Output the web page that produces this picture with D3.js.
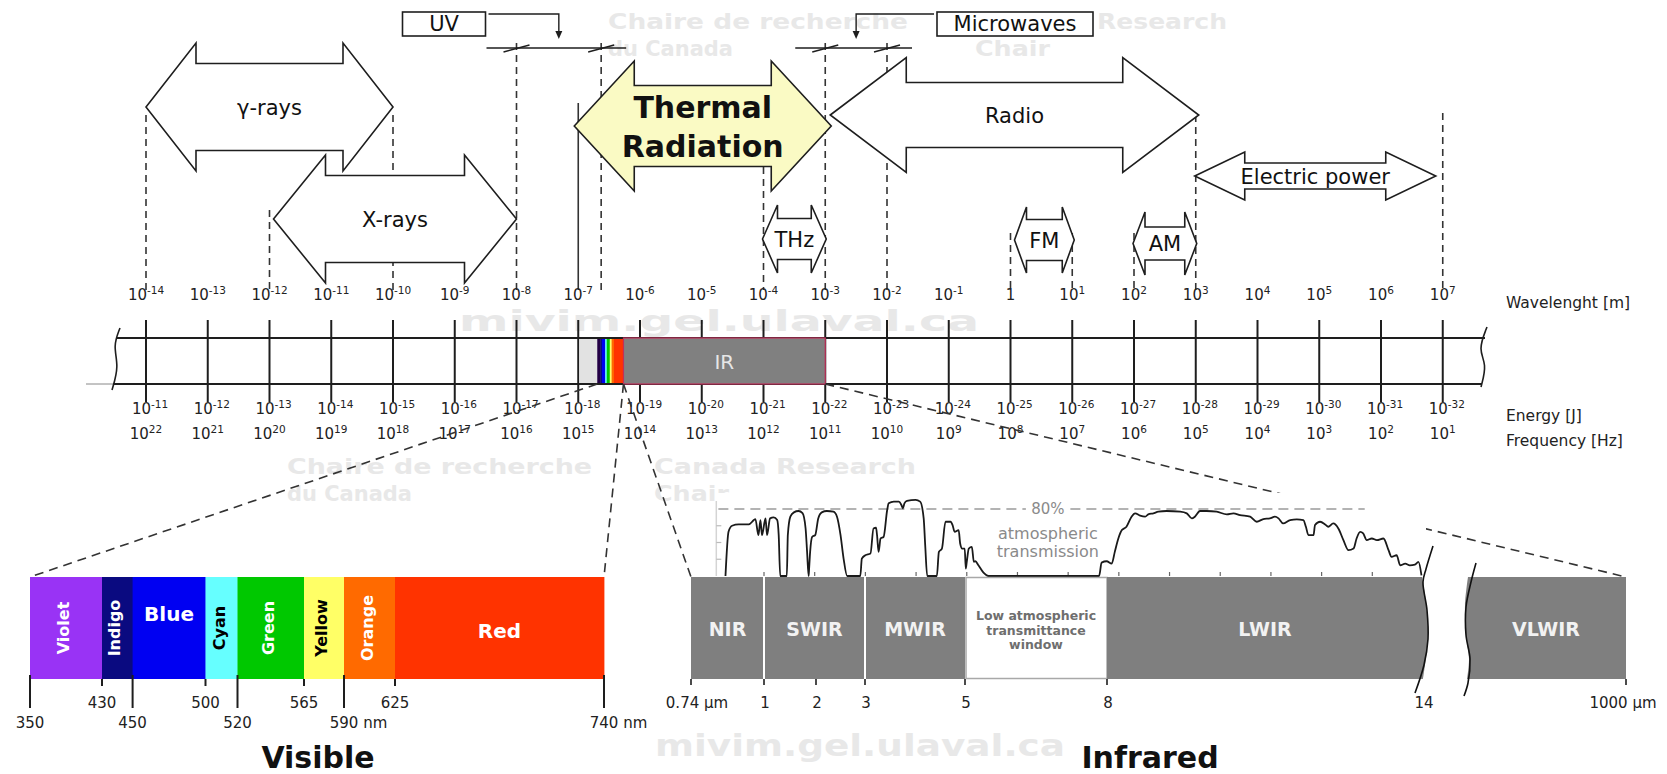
<!DOCTYPE html>
<html><head><meta charset="utf-8">
<script src="https://cdn.jsdelivr.net/npm/d3@7"></script>
<style>body{margin:0;background:#fff}svg{display:block}text{font-family:'DejaVu Sans',Verdana,sans-serif}</style>
</head><body><svg id="c" width="1667" height="774"></svg>
<script>
// ================= DATA =================
const wavelengthExp = [-14,-13,-12,-11,-10,-9,-8,-7,-6,-5,-4,-3,-2,-1,0,1,2,3,4,5,6,7];
const energyExp = [-11,-12,-13,-14,-15,-16,-17,-18,-19,-20,-21,-22,-23,-24,-25,-26,-27,-28,-29,-30,-31,-32];
const frequencyExp = [22,21,20,19,18,17,16,15,14,13,12,11,10,9,8,7,6,5,4,3,2,1];

const bandNames  = ["γ-rays","X-rays","Radio","Thermal Radiation","THz","FM","AM","Electric power"];
const bandFromExp = [-14,-12,-3,-7,-4,0,2,3];
const bandToExp   = [-10,-8,3,-3,-3,1,3,7];

const bracketNames = ["UV","Microwaves"];
const bracketFrom  = [1e-8, 1e-3];
const bracketTo    = [2.35e-7, 1e-2];

const guideWavelengths = [1e-14,1e-12,1e-10,1e-8,2.35e-7,1e-7,1e-4,1e-3,1e-2,1,10,100,1000,1e7];

const visibleNames = ["Violet","Indigo","Blue","Cyan","Green","Yellow","Orange","Red"];
const visibleFrom  = [350,430,450,500,520,565,590,625];
const visibleTo    = [430,450,500,520,565,590,625,740];
const visibleTicksUpper = [430,500,565,625];
const visibleTicksLower = [350,450,520,590,740];

const irNames = ["NIR","SWIR","MWIR","Low atmospheric|transmittance|window","LWIR"];
const irFrom  = [0.74,1,3,5,8];
const irTo    = [1,3,5,8,14];
const farIrName = "VLWIR";
const farIrFrom = 14, farIrTo = 1000;
const irTicks = [0.74,1,2,3,5,8,14];
const irTickLabels = ["0.74 µm","1","2","3","5","8","14"];
const farIrTickLabel = "1000 µm";
const transTicks = [1,2,3,4,5,6,7,8,9,10,11,12,13];
const transGrid = [20,40,60,80];

// atmospheric transmission (%) vs wavelength (µm)
const transWl = [0.24,0.30,0.37,0.50,0.70,0.80,0.83,0.89,0.93,0.96,1.03,1.06,1.12,1.19,1.26,1.29,1.32,
 1.45,1.47,1.52,1.59,1.68,1.76,1.82,1.85,1.88,
 1.89,1.91,1.95,2.01,2.07,2.14,2.24,2.37,2.44,2.51,2.57,2.64,
 2.90,2.93,3.00,3.10,3.16,3.21,3.23,3.26,3.30,3.36,3.43,3.46,3.56,3.66,3.71,3.74,3.77,3.82,3.99,4.08,4.15,4.18,4.22,
 4.41,4.45,4.51,4.58,4.68,4.72,4.76,4.84,4.87,4.91,4.96,4.98,5.00,5.04,5.10,5.14,5.17,5.23,5.33,5.43,
 7.61,7.66,7.76,7.86,7.92,7.99,8.06,8.15,8.25,8.32,8.42,8.52,8.58,8.68,8.78,8.94,9.21,9.34,9.44,9.50,
 9.60,9.73,9.93,10.13,10.26,10.39,10.59,10.72,10.85,10.98,11.08,11.15,11.24,11.38,11.51,11.64,11.69,11.74,11.84,11.87,
 11.97,12.07,12.13,12.23,12.33,12.43,12.53,12.63,12.69,12.76,12.82,12.89,12.99,13.09,13.22,13.32,13.38,13.48,13.55,13.65,
 13.74,13.84,13.91,13.97];
const transPct = [0,52.8,60,61.6,61.6,66.8,68,48.8,66.8,48.8,68.8,48.8,68.8,70,66.8,48.8,0,
 0,49,71,76,77.6,75,57,29,0,
 8.8,28.8,46.8,48.8,68.8,76,77.6,76.8,70.8,48.8,20.8,0,
 0,20.8,24.8,26.8,56.8,57.6,48.8,28.8,44.8,46.8,78.8,86.8,88.8,88.8,84.8,80.8,86.8,89.6,90.8,88.8,68.8,36.8,0,
 0,28.8,32.8,64.8,64.8,60.8,52.8,54.8,38.8,32.8,32.8,8.8,16.8,32.8,34.8,16.8,17.6,12.8,4,0,
 0,16,17.6,14.8,28.8,44.8,54.8,58.8,70.8,74.8,72,70.8,73.6,74.8,76.8,77.6,76.8,74.8,68.8,70.8,
 77.6,77.6,76.8,73.6,74.8,72.8,70.8,64.8,68,68.8,70.8,68.8,62.8,66.8,67.6,66.8,58.8,48.8,48.8,60.8,
 64.8,61.6,58.8,62.8,56.8,42.8,30.8,32.8,44.8,52.8,50.8,42.8,44.8,42.8,44.8,30.8,22.8,24.8,12.8,14.8,
 12.8,13.6,16.8,0.8];

// ================= STYLE / LAYOUT =================
const visibleColors = ["#9933f5","#0a0a80","#0000f2","#66ffff","#00c800","#ffff66","#ff6a00","#ff3300"];
const visibleText   = ["#fff","#fff","#fff","#000","#fff","#000","#fff","#fff"];
const visibleRotated = [true,true,false,true,true,true,true,false];
const guideTop  = [115,210,115,43,43,103,167,43,43,233,233,233,115,113];
const guideDash = [true,true,true,true,true,false,true,true,true,true,true,true,true,true];
const arrowLayout = [
 {cy:107,H:64,S:43.5,L:50,pad:[0,0]},
 {cy:219,H:64,S:43.5,L:52,pad:[4,0]},
 {cy:115,H:57.5,S:32.5,L:76,pad:[5,3]},
 {cy:126,H:65,S:40.5,L:60,pad:[-4,6]},
 {cy:239,H:34,S:20.5,L:15,pad:[-1,1]},
 {cy:240,H:33,S:20.5,L:12,pad:[4,2]},
 {cy:243.5,H:31.5,S:16.5,L:12,pad:[-1,1]},
 {cy:176,H:24,S:13,L:50,pad:[-1,-7]}
];
const W = 1667, H = 774;
const ink = "#1e1e1e";

const svg = d3.select("#c");
svg.append("rect").attr("width",W).attr("height",H).attr("fill","#fff");

// ---------- scales ----------
const wl = d3.scaleLog().domain([1e-14,1e7]).range([146,1442.75]);
const wlE = e => wl(Math.pow(10,e));
const visX = d3.scaleLinear().domain([350,430,450,500,520,565,590,625,740])
  .range([30,102,132.6,205.5,237.5,304,344,395,604]);
const irBar = d3.scaleLinear().domain(irTicks).range([691,764,816,865,965,1107,1423]);
const farIr = d3.scaleLinear().domain([farIrFrom,farIrTo]).range([1466,1626]);
const tX = d3.scaleLinear().domain([1,14]).range([764,1423]);
const tY = d3.scaleLinear().domain([0,80]).range([576,509]);
const stripLo = 2.03e-7, stripHi = 5.4e-7;
const mini = d3.scaleLinear().domain([visX(350),visX(740)]).range([wl(stripLo),wl(stripHi)]);

// ---------- watermark ----------
const wm = svg.append("g").attr("fill","#e8e8e8").attr("font-weight","bold");
[["Chaire de recherche",608,29,21,300],["du Canada",608,56,21,125],["Research",1097,29,21,130],["Chair",975,56,21,75],
 ["Chaire de recherche",287,474,21,305],["du Canada",287,501,21,125],["Canada Research",654,474,21,262],["Chair",654,501,21,75]]
 .forEach(d=>wm.append("text").attr("x",d[1]).attr("y",d[2]).attr("font-size",d[3])
   .attr("textLength",d[4]).attr("lengthAdjust","spacingAndGlyphs").text(d[0]));
wm.append("text").attr("x",459).attr("y",331).attr("font-size",29).attr("textLength",520)
  .attr("lengthAdjust","spacingAndGlyphs").text("mivim.gel.ulaval.ca");
wm.append("text").attr("x",655).attr("y",756).attr("font-size",30).attr("textLength",410)
  .attr("lengthAdjust","spacingAndGlyphs").text("mivim.gel.ulaval.ca");

// ---------- guides ----------
const topG = svg.append("g");
guideWavelengths.forEach((w,i)=>{
  topG.append("line").attr("x1",wl(w)).attr("x2",wl(w)).attr("y1",guideTop[i]).attr("y2",290)
    .attr("stroke","#333").attr("stroke-width",1.6).attr("stroke-dasharray",guideDash[i]?"7,5":null);
});

// ---------- arrows ----------
function arrowPath(x1,x2,cy,Hh,S,L){
  return `M${x1},${cy}L${x1+L},${cy-Hh}L${x1+L},${cy-S}L${x2-L},${cy-S}L${x2-L},${cy-Hh}L${x2},${cy}`+
         `L${x2-L},${cy+Hh}L${x2-L},${cy+S}L${x1+L},${cy+S}L${x1+L},${cy+Hh}Z`;
}
bandNames.forEach((name,i)=>{
  const a = arrowLayout[i];
  const x1 = wlE(bandFromExp[i])+a.pad[0], x2 = wlE(bandToExp[i])+a.pad[1];
  const thermal = name==="Thermal Radiation";
  topG.append("path").attr("d",arrowPath(x1,x2,a.cy,a.H,a.S,a.L))
    .attr("fill",thermal?"#fafac4":"#fff").attr("stroke",ink).attr("stroke-width",1.6)
    .attr("stroke-linejoin","miter");
  const cx = (x1+x2)/2;
  if(thermal){
    const words = name.split(" ");
    topG.append("text").attr("x",cx).attr("y",a.cy-8).attr("text-anchor","middle")
      .attr("font-size",30).attr("font-weight","bold").attr("fill","#111").text(words[0]);
    topG.append("text").attr("x",cx).attr("y",a.cy+31).attr("text-anchor","middle")
      .attr("font-size",30).attr("font-weight","bold").attr("fill","#111").text(words[1]);
  } else {
    topG.append("text").attr("x",cx).attr("y",a.cy+7.5).attr("text-anchor","middle")
      .attr("font-size",21).attr("fill","#111").text(name);
  }
});

// ---------- UV / Microwaves brackets ----------
const dimY = 48;
const boxLayout = [{cx:444,w:83,side:"right"},{cx:1015,w:156,side:"left"}];
bracketNames.forEach((name,i)=>{
  const xa = wl(bracketFrom[i]), xb = wl(bracketTo[i]);
  topG.append("line").attr("x1",xa-30).attr("x2",xb+25).attr("y1",dimY).attr("y2",dimY)
    .attr("stroke",ink).attr("stroke-width",1.4);
  [xa,xb].forEach(x=>topG.append("line").attr("x1",x-13).attr("x2",x+13)
     .attr("y1",dimY+4).attr("y2",dimY-3).attr("stroke",ink).attr("stroke-width",1.4));
  const b = boxLayout[i];
  topG.append("rect").attr("x",b.cx-b.w/2).attr("y",12).attr("width",b.w).attr("height",24)
    .attr("fill","#fff").attr("stroke",ink).attr("stroke-width",1.6);
  topG.append("text").attr("x",b.cx).attr("y",31).attr("text-anchor","middle")
    .attr("font-size",21).attr("fill","#111").text(name);
  const mid = (xa+xb)/2;
  const edge = b.side==="right" ? b.cx+b.w/2+3 : b.cx-b.w/2-3;
  topG.append("path").attr("d",`M${edge},14L${mid},14L${mid},34`).attr("fill","none")
    .attr("stroke",ink).attr("stroke-width",1.4);
  topG.append("path").attr("d",`M${mid-3.5},31L${mid+3.5},31L${mid},39Z`).attr("fill",ink);
});

// ---------- main band ----------
const bandTop = 338, bandBot = 384;
const band = svg.append("g");
wavelengthExp.forEach(e=>{
  band.append("line").attr("x1",wlE(e)).attr("x2",wlE(e)).attr("y1",320).attr("y2",402)
    .attr("stroke",ink).attr("stroke-width",2);
});
band.append("line").attr("x1",117).attr("x2",1485).attr("y1",bandTop).attr("y2",bandTop)
  .attr("stroke",ink).attr("stroke-width",1.8);
band.append("line").attr("x1",113).attr("x2",1482).attr("y1",bandBot).attr("y2",bandBot)
  .attr("stroke",ink).attr("stroke-width",1.8);
band.append("line").attr("x1",86).attr("x2",113).attr("y1",bandBot).attr("y2",bandBot)
  .attr("stroke","#888").attr("stroke-width",1);
band.append("rect").attr("x",wl(1e-7)+1).attr("y",bandTop+1).attr("width",wl(stripLo)-wl(1e-7)-1)
  .attr("height",bandBot-bandTop-2).attr("fill","#e2e2e2");
visibleNames.forEach((n,i)=>{
  band.append("rect").attr("x",mini(visX(visibleFrom[i]))).attr("y",bandTop+1)
    .attr("width",mini(visX(visibleTo[i]))-mini(visX(visibleFrom[i]))+0.3).attr("height",bandBot-bandTop-2)
    .attr("fill",i===0?"#220044":visibleColors[i]);
});
band.append("rect").attr("x",wl(stripHi)).attr("y",bandTop).attr("width",wl(1e-3)-wl(stripHi))
  .attr("height",bandBot-bandTop).attr("fill","#808080").attr("stroke","#c0305a").attr("stroke-width",1.2);
band.append("text").attr("x",(wl(stripHi)+wl(1e-3))/2).attr("y",369).attr("text-anchor","middle")
  .attr("font-size",20).attr("fill","#e6e6e6").text("IR");
const curveL = d3.line().curve(d3.curveBasis);
band.append("path").attr("d",curveL([[120,328],[113,346],[119,366],[112,390]]))
  .attr("fill","none").attr("stroke",ink).attr("stroke-width",1.6);
band.append("path").attr("d",curveL([[1487,327],[1478,350],[1487,364],[1481,387]]))
  .attr("fill","none").attr("stroke",ink).attr("stroke-width",1.6);

function supLabel(g,x,y,base,exp){
  const t = g.append("text").attr("x",x).attr("y",y).attr("text-anchor","middle")
    .attr("font-size",15).attr("fill","#222");
  t.append("tspan").text(base);
  if(exp!==null) t.append("tspan").attr("dy",-6).attr("font-size",10.5).text(exp);
}
wavelengthExp.forEach(e=>{
  if(e===0) supLabel(band,wlE(e),300,"1",null);
  else supLabel(band,wlE(e),300,"10",String(e));
});
energyExp.forEach((e,i)=>supLabel(band,wlE(wavelengthExp[i])+4,414,"10",String(e)));
frequencyExp.forEach((e,i)=>supLabel(band,wlE(wavelengthExp[i]),439,"10",String(e)));
[["Wavelenght [m]",308],["Energy [J]",421],["Frequency [Hz]",446]].forEach(d=>
  band.append("text").attr("x",1506).attr("y",d[1]).attr("font-size",15.5).attr("fill","#222").text(d[0]));

// ---------- zoom dashed lines ----------
const visTop = 577, visBot = 679, irTop = 577, irBot = 679;
const zl = svg.append("g").attr("stroke","#333").attr("stroke-width",1.6).attr("stroke-dasharray","9,6");
zl.append("line").attr("x1",wl(stripLo)).attr("y1",bandBot).attr("x2",visX(350)).attr("y2",visTop);
zl.append("line").attr("x1",wl(stripHi)).attr("y1",bandBot).attr("x2",visX(740)).attr("y2",visTop);
zl.append("line").attr("x1",wl(stripHi)).attr("y1",bandBot).attr("x2",irBar(0.74)).attr("y2",irTop);
zl.append("line").attr("x1",wl(1e-3)).attr("y1",bandBot).attr("x2",farIr(farIrTo)).attr("y2",irTop);

// ---------- atmospheric transmission ----------
const tr = svg.append("g");
tr.append("rect").attr("x",tX(0)+3).attr("y",493).attr("width",irBar(14)+3-tX(0)-3).attr("height",tY(0)-493)
  .attr("fill","#fff");
tr.append("line").attr("x1",tX(0)+3).attr("x2",tX(0)+3).attr("y1",tY(80)-8).attr("y2",tY(0))
  .attr("stroke","#d4d4d4").attr("stroke-width",1.5);
transGrid.slice(0,3).forEach(p=>tr.append("line").attr("x1",tX(0)+3).attr("x2",tX(0)+8)
  .attr("y1",tY(p)).attr("y2",tY(p)).attr("stroke","#bbb").attr("stroke-width",1.2));
transTicks.forEach(t=>tr.append("line").attr("x1",tX(t)).attr("x2",tX(t)).attr("y1",tY(0)-4).attr("y2",tY(0))
  .attr("stroke","#666").attr("stroke-width",1.2));
tr.append("line").attr("x1",tX(0.1)).attr("x2",tX(12.85)).attr("y1",tY(80)).attr("y2",tY(80))
  .attr("stroke","#9a9a9a").attr("stroke-width",1.6).attr("stroke-dasharray","10,6");
tr.append("rect").attr("x",tX(6.6)-22).attr("y",tY(80)-9).attr("width",44).attr("height",18).attr("fill","#fff");
tr.append("text").attr("x",tX(6.6)).attr("y",tY(80)+5).attr("text-anchor","middle").attr("font-size",15)
  .attr("fill","#8a8a8a").text("80%");
tr.append("text").attr("x",tX(6.6)).attr("y",539).attr("text-anchor","middle").attr("font-size",16)
  .attr("fill","#8a8a8a").text("atmospheric");
tr.append("text").attr("x",tX(6.6)).attr("y",557).attr("text-anchor","middle").attr("font-size",16)
  .attr("fill","#8a8a8a").text("transmission");
const tline = d3.line().x((d,i)=>tX(transWl[i])).y((d,i)=>tY(transPct[i])).curve(d3.curveMonotoneX);
tr.append("path").attr("d",tline(transWl)).attr("fill","none").attr("stroke","#1a1a1a")
  .attr("stroke-width",1.8).attr("stroke-linejoin","round");

// ---------- visible bar ----------
const vis = svg.append("g");
visibleNames.forEach((n,i)=>{
  const x0 = visX(visibleFrom[i]), x1 = visX(visibleTo[i]);
  vis.append("rect").attr("x",x0).attr("y",visTop).attr("width",x1-x0+0.4).attr("height",visBot-visTop)
    .attr("fill",visibleColors[i]);
  const cx = (x0+x1)/2, cy = (visTop+visBot)/2;
  if(visibleRotated[i]){
    vis.append("text").attr("transform",`translate(${cx+3},${cy}) rotate(-90)`).attr("text-anchor","middle")
      .attr("font-size",16).attr("font-weight","bold").attr("fill",visibleText[i]).text(n);
  } else {
    vis.append("text").attr("x",cx).attr("y",n==="Blue"?621:638).attr("text-anchor","middle")
      .attr("font-size",20).attr("font-weight","bold").attr("fill",visibleText[i]).text(n);
  }
});
visibleTicksUpper.forEach(v=>{
  vis.append("line").attr("x1",visX(v)).attr("x2",visX(v)).attr("y1",visBot).attr("y2",686)
    .attr("stroke",ink).attr("stroke-width",2);
  vis.append("text").attr("x",visX(v)).attr("y",708).attr("text-anchor","middle").attr("font-size",15)
    .attr("fill","#222").text(v);
});
visibleTicksLower.forEach((v,i)=>{
  vis.append("line").attr("x1",visX(v)).attr("x2",visX(v)).attr("y1",675).attr("y2",708)
    .attr("stroke",ink).attr("stroke-width",2);
  const t = vis.append("text").attr("x",visX(v)).attr("y",728).attr("text-anchor","middle").attr("font-size",15)
    .attr("fill","#222").text(v);
  if(v>=590){
    const w = t.node().getComputedTextLength();
    vis.append("text").attr("x",visX(v)+w/2+5).attr("y",728).attr("font-size",15).attr("fill","#222").text("nm");
  }
});
vis.append("text").attr("x",(visX(350)+visX(740))/2+1).attr("y",768).attr("text-anchor","middle")
  .attr("font-size",30).attr("font-weight","bold").attr("fill","#111").text("Visible");

// ---------- infrared bar ----------
const ir = svg.append("g");
const x14 = irBar(14);
const edgeLine = d3.line().curve(d3.curveCatmullRom);
irNames.forEach((n,i)=>{
  const x0 = irBar(irFrom[i]), x1 = irBar(irTo[i]);
  const isWin = n.indexOf("|")>=0;
  if(irTo[i]===14){
    const edge = edgeLine([[x14-1,irTop],[x14+3,irTop+25],[x14+5,irTop+55],[x14+3,irTop+80],[x14,irBot]]);
    ir.append("path").attr("d",`M${x0},${irTop}`+edge.replace("M","L")+`L${x0},${irBot}Z`).attr("fill","#7f7f7f");
  } else if(isWin){
    ir.append("rect").attr("x",x0+1).attr("y",irTop+0.5).attr("width",x1-x0-1).attr("height",irBot-irTop-1)
      .attr("fill","#fff").attr("stroke","#a8a8a8").attr("stroke-width",1.5);
  } else {
    ir.append("rect").attr("x",x0).attr("y",irTop).attr("width",x1-x0).attr("height",irBot-irTop)
      .attr("fill","#7f7f7f");
  }
  const cx = (x0+x1)/2;
  if(isWin){
    n.split("|").forEach((s,k)=>ir.append("text").attr("x",cx).attr("y",620+k*14.5).attr("text-anchor","middle")
      .attr("font-size",12.5).attr("font-weight","bold").attr("fill","#6e6e6e").text(s));
  } else {
    ir.append("text").attr("x",cx).attr("y",636).attr("text-anchor","middle").attr("font-size",19)
      .attr("font-weight","bold").attr("fill","#f2f2f2").text(n);
  }
});
// separators
[1,3].forEach(v=>ir.append("line").attr("x1",irBar(v)).attr("x2",irBar(v)).attr("y1",irTop).attr("y2",irBot)
  .attr("stroke","#fff").attr("stroke-width",2));
// far IR (after break)
const xv = farIr(farIrFrom), xe = farIr(farIrTo);
const vEdge = edgeLine([[xv+2,irTop],[xv-1,irTop+28],[xv,irTop+58],[xv+3,irTop+82],[xv+1,irBot]]);
ir.append("path").attr("d",`M${xe},${irTop}L`+vEdge.slice(1)+`L${xe},${irBot}Z`).attr("fill","#7f7f7f");
ir.append("text").attr("x",(xv+xe)/2).attr("y",636).attr("text-anchor","middle").attr("font-size",19)
  .attr("font-weight","bold").attr("fill","#f2f2f2").text(farIrName);
// break lines
ir.append("path").attr("d",edgeLine([[x14+10,irTop-31],[x14+3,irTop-8],[x14,irTop+5],[x14+4,irTop+33],
  [x14+5,irTop+62],[x14+1,irTop+88],[x14-8,irBot+14]])).attr("fill","none").attr("stroke","#111").attr("stroke-width",1.6);
ir.append("path").attr("d",edgeLine([[xv+10,irTop-14],[xv+5,irTop+5],[xv,irTop+30],[xv,irTop+58],
  [xv+4,irTop+82],[xv+2,irBot+4],[xv-2,irBot+17]])).attr("fill","none").attr("stroke","#111").attr("stroke-width",1.6);
// ticks & labels
irTicks.forEach((v,i)=>{
  if(v!==14) ir.append("line").attr("x1",irBar(v)).attr("x2",irBar(v)).attr("y1",irBot).attr("y2",irBot+6)
    .attr("stroke",ink).attr("stroke-width",1.6);
  ir.append("text").attr("x",irBar(v)+(i===0?6:1)).attr("y",708).attr("text-anchor","middle").attr("font-size",15)
    .attr("fill","#222").text(irTickLabels[i]);
});
ir.append("line").attr("x1",xe).attr("x2",xe).attr("y1",irBot).attr("y2",irBot+6).attr("stroke",ink).attr("stroke-width",1.6);
ir.append("text").attr("x",xe-3).attr("y",708).attr("text-anchor","middle").attr("font-size",15)
  .attr("fill","#222").text(farIrTickLabel);
ir.append("text").attr("x",1150).attr("y",768).attr("text-anchor","middle")
  .attr("font-size",30).attr("font-weight","bold").attr("fill","#111").text("Infrared");
</script></body></html>
